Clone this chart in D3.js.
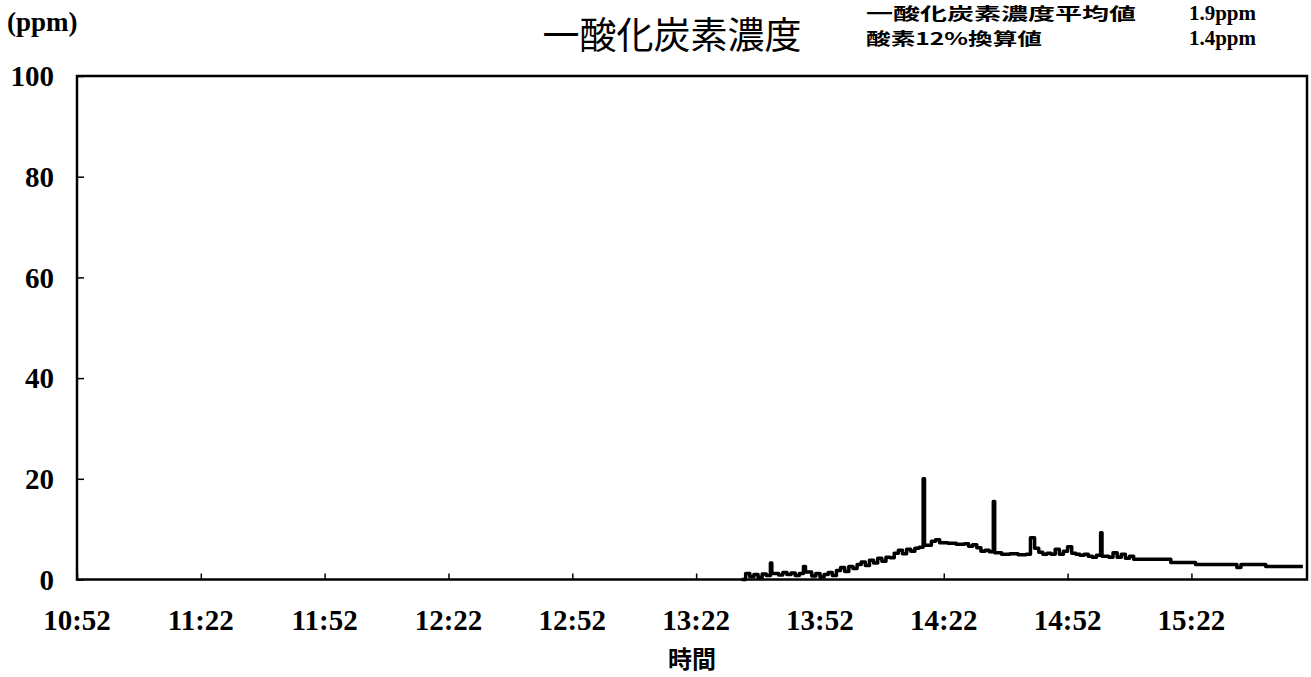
<!DOCTYPE html>
<html>
<head>
<meta charset="utf-8">
<script src="https://cdn.jsdelivr.net/npm/d3@7"></script>
<style>
  body { margin: 0; background: #fff; }
  svg { display: block; }
</style>
</head>
<body>
<div id="chart"></div>
<script>
// Time axis ticks (every 30 minutes from 10:52)
const tickLabels = ["10:52", "11:22", "11:52", "12:22", "12:52", "13:22", "13:52", "14:22", "14:52", "15:22"];
const yTicks = [0, 20, 40, 60, 80, 100];

// CO concentration readings (ppm)
const times = [
  "13:33", "13:34", "13:35", "13:36", "13:37", "13:38", "13:39", "13:40", "13:40:20", "13:42",
  "13:43", "13:44", "13:45", "13:46", "13:47", "13:48", "13:48:30", "13:50", "13:51", "13:52",
  "13:53", "13:54", "13:55", "13:56", "13:57", "13:58", "13:59", "14:00", "14:01", "14:02",
  "14:03", "14:04", "14:05", "14:06", "14:07", "14:08", "14:09", "14:10", "14:11", "14:12",
  "14:13", "14:14", "14:15", "14:16", "14:17", "14:17:20", "14:19", "14:20", "14:21", "14:23",
  "14:25", "14:27", "14:28", "14:29", "14:30", "14:31", "14:32", "14:33", "14:34", "14:34:20",
  "14:36", "14:38", "14:40", "14:42", "14:43", "14:44", "14:45", "14:46", "14:47", "14:48",
  "14:49", "14:50", "14:51", "14:52", "14:53", "14:54", "14:55", "14:56", "14:57", "14:58",
  "14:59", "15:00", "15:00:20", "15:02", "15:03", "15:04", "15:05", "15:06", "15:07", "15:08",
  "15:12", "15:17", "15:20", "15:23", "15:28", "15:33", "15:34", "15:37", "15:40", "15:45",
  "15:49"
];
const coValues = [
  0.0, 1.2, 0.6, 1.0, 0.4, 1.1, 0.8, 3.3, 1.2, 0.9,
  1.4, 1.0, 1.3, 0.8, 1.2, 2.6, 1.5, 0.7, 1.2, 0.5,
  1.0, 1.4, 0.8, 1.8, 2.4, 1.6, 2.6, 2.2, 3.0, 3.5,
  2.8, 3.8, 3.3, 4.2, 3.6, 4.4, 4.3, 5.2, 5.8, 5.1,
  6.0, 5.6, 6.2, 6.4, 20.0, 6.8, 7.6, 7.9, 7.3, 7.2,
  7.0, 7.1, 6.6, 6.9, 6.3, 5.6, 5.8, 5.5, 15.5, 5.3,
  5.0, 5.1, 4.9, 5.0, 8.3, 6.2, 5.4, 5.0, 5.2, 5.0,
  6.0, 5.0, 5.6, 6.5, 5.2, 5.0, 4.8, 5.0, 4.6, 4.4,
  4.8, 9.3, 4.6, 4.4, 5.3, 4.4, 5.0, 4.2, 4.6, 4.0,
  4.0, 3.4, 3.4, 3.0, 3.0, 2.4, 3.0, 3.0, 2.6, 2.6,
  2.6
];

const W = 1311, H = 677;
const margin = { top: 76, right: 4, bottom: 97, left: 77 };

const parseHM = d3.timeParse("%H:%M");
const parseHMS = d3.timeParse("%H:%M:%S");
const parseT = s => parseHMS(s) || parseHM(s);
const data = times.map((t, i) => ({ t: parseT(t), v: coValues[i] }));

const svg = d3.select("#chart").append("svg")
  .attr("width", W)
  .attr("height", H);

const x = d3.scaleTime()
  .domain([parseT("10:52"), parseT("15:50")])
  .range([margin.left, W - margin.right]);

const y = d3.scaleLinear()
  .domain([0, 100])
  .range([H - margin.bottom - 0.5, margin.top]);

const serif = "'Liberation Serif', 'DejaVu Serif', serif";
const cjk = "'Noto Sans CJK JP', sans-serif";

// Frame
svg.append("rect")
  .attr("x", margin.left)
  .attr("y", margin.top)
  .attr("width", W - margin.right - margin.left)
  .attr("height", y(0) - margin.top)
  .attr("fill", "none")
  .attr("stroke", "#000")
  .attr("stroke-width", 2.5);

// Y axis: ticks point inward
const yAxis = d3.axisRight(y)
  .tickValues(yTicks)
  .tickSize(7)
  .tickFormat("");
svg.append("g")
  .attr("transform", `translate(${margin.left},0)`)
  .call(yAxis)
  .call(g => g.select(".domain").remove())
  .call(g => g.selectAll(".tick line").attr("stroke-width", 1.5));

svg.append("g")
  .selectAll("text")
  .data(yTicks)
  .enter()
  .append("text")
  .attr("x", 54)
  .attr("y", d => y(d))
  .attr("dy", "0.35em")
  .attr("text-anchor", "end")
  .style("font-family", serif)
  .style("font-weight", "bold")
  .style("font-size", "29px")
  .text(d => d);

// X axis: ticks point up
const xTicks = tickLabels.map(parseT);
const xAxis = d3.axisTop(x)
  .tickValues(xTicks)
  .tickSize(6)
  .tickFormat("");
svg.append("g")
  .attr("transform", `translate(0,${y(0)})`)
  .call(xAxis)
  .call(g => g.select(".domain").remove())
  .call(g => g.selectAll(".tick line").attr("stroke-width", 1.5));

svg.append("g")
  .selectAll("text")
  .data(tickLabels)
  .enter()
  .append("text")
  .attr("x", d => x(parseT(d)))
  .attr("y", 630)
  .attr("text-anchor", "middle")
  .style("font-family", serif)
  .style("font-weight", "bold")
  .style("font-size", "29px")
  .text(d => d);

// Data line
const line = d3.line()
  .x(d => x(d.t))
  .y(d => y(d.v))
  .curve(d3.curveStepAfter);

svg.append("path")
  .datum(data)
  .attr("d", line)
  .attr("fill", "none")
  .attr("stroke", "#000")
  .attr("stroke-width", 3.5)
  .attr("stroke-linejoin", "round");

// Labels
svg.append("text")
  .attr("x", 7)
  .attr("y", 31)
  .style("font-family", serif)
  .style("font-weight", "bold")
  .style("font-size", "27px")
  .text("(ppm)");

svg.append("text")
  .attr("x", 672)
  .attr("y", 49)
  .attr("text-anchor", "middle")
  .style("font-family", cjk)
  .style("font-size", "37px")
  .text("一酸化炭素濃度");

svg.append("text")
  .attr("x", 866)
  .attr("y", 20)
  .attr("textLength", 270)
  .attr("lengthAdjust", "spacingAndGlyphs")
  .style("font-family", cjk)
  .style("font-weight", "bold")
  .style("font-size", "17px")
  .text("一酸化炭素濃度平均値");

svg.append("text")
  .attr("x", 866)
  .attr("y", 45)
  .attr("textLength", 176)
  .attr("lengthAdjust", "spacingAndGlyphs")
  .style("font-family", cjk)
  .style("font-weight", "bold")
  .style("font-size", "17px")
  .text("酸素12%換算値");

svg.append("text")
  .attr("x", 1256)
  .attr("y", 20)
  .attr("text-anchor", "end")
  .style("font-family", serif)
  .style("font-weight", "bold")
  .style("font-size", "21px")
  .text("1.9ppm");

svg.append("text")
  .attr("x", 1256)
  .attr("y", 45)
  .attr("text-anchor", "end")
  .style("font-family", serif)
  .style("font-weight", "bold")
  .style("font-size", "21px")
  .text("1.4ppm");

svg.append("text")
  .attr("x", 692)
  .attr("y", 668)
  .attr("text-anchor", "middle")
  .style("font-family", cjk)
  .style("font-weight", "bold")
  .style("font-size", "24px")
  .text("時間");
</script>
</body>
</html>
